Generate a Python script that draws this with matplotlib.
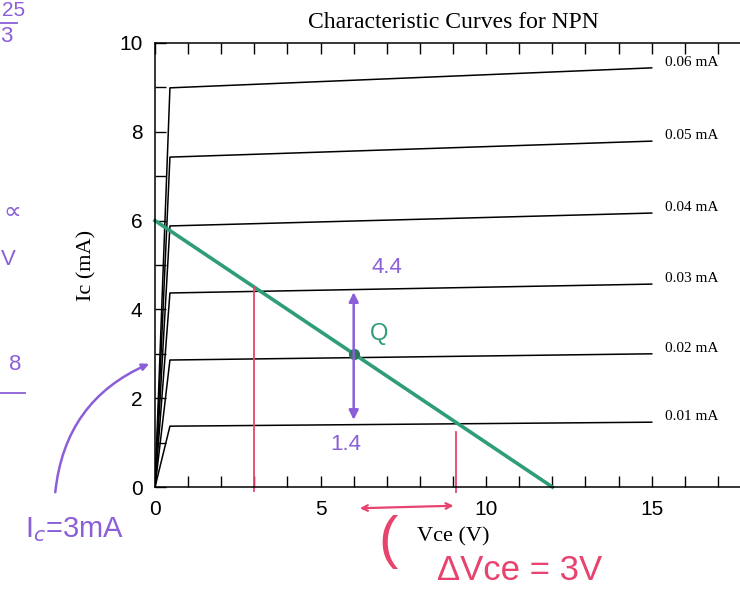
import numpy as np
import matplotlib.pyplot as plt

plt.rcParams['font.family'] = 'Liberation Sans'

# characteristic curves
base_labels = ['0.01 mA', '0.02 mA', '0.03 mA', '0.04 mA', '0.05 mA', '0.06 mA']
curve_vce = [0, 0.45, 15]
knee_ic = [1.37, 2.86, 4.37, 5.88, 7.43, 8.99]
end_ic = [1.46, 3.00, 4.57, 6.17, 7.79, 9.44]

# hand-drawn load line and Q point
load_vce = [0, 12]
load_ic = [6, 0]
q_vce, q_ic = 6, 3
ic_top, ic_bot = 4.45, 1.45
vce_left, vce_right = 3, 9.1

purple = '#8b5fd8'
pink = '#e8436e'
green = '#2f9e76'
serif = 'Liberation Serif'

fig = plt.figure(figsize=(7.4, 5.98), dpi=100)
ax = fig.add_axes([0.2095, 0.1856, 0.8054, 0.7425])

for lab, k, e in zip(base_labels, knee_ic, end_ic):
    ax.plot(curve_vce, [0, k, e], color='black', lw=1.1)
    ax.text(15.4, e + 0.12, lab, fontsize=11, family=serif, va='center', ha='left')

ax.set_xlim(0, 18)
ax.set_ylim(0, 10)
ax.set_xticks([0, 5, 10, 15])
ax.set_xticks(np.arange(0, 19, 1), minor=True)
ax.set_yticks([0, 2, 4, 6, 8, 10])
ax.set_yticks(np.arange(0, 11, 1), minor=True)
ax.tick_params(which='both', direction='in', top=True, right=True, length=8, width=1)
ax.tick_params(labelsize=15, pad=9)
for s in ax.spines.values():
    s.set_linewidth(1.1)

ax.set_title('Characteristic Curves for NPN', family=serif, fontsize=17, pad=11)
ax.set_xlabel('Vce (V)', family=serif, fontsize=16, labelpad=6)
ax.set_ylabel('Ic (mA)', family=serif, fontsize=16, labelpad=16)

# annotations
ax.plot(load_vce, load_ic, color=green, lw=2.6, clip_on=False)
ax.plot(q_vce, q_ic, 'o', color='#2a7a58', ms=7)
ax.text(q_vce + 0.5, q_ic + 0.3, 'Q', color=green, fontsize=17)

ax.annotate('', xy=(q_vce, ic_top), xytext=(q_vce, ic_bot),
            arrowprops=dict(arrowstyle='<|-|>', color=purple, lw=1.8, mutation_scale=14))
ax.text(q_vce + 1.0, ic_top + 0.5, '4.4', color=purple, fontsize=16, ha='center', va='center')
ax.text(q_vce - 0.25, ic_bot - 0.5, '1.4', color=purple, fontsize=16, ha='center', va='center')

ax.plot([vce_left, vce_left], [-0.1, 4.5], color=pink, lw=1.3, clip_on=False)
ax.plot([vce_right, vce_right], [-0.12, 1.25], color=pink, lw=1.3, clip_on=False)
ax.annotate('', xy=(vce_right, -0.42), xytext=(vce_left + 3.1, -0.48),
            arrowprops=dict(arrowstyle='<->', color=pink, lw=1.6), annotation_clip=False)
fig.text(388 / 740, 1 - 542 / 598, '(', color=pink, fontsize=42, ha='center', va='center')
fig.text(520 / 740, 1 - 570 / 598, 'ΔVce = 3V', color=pink, fontsize=25, ha='center', va='center')

fig.text(75 / 740, 1 - 530 / 598, r'I$_c$=3mA', color=purple, fontsize=21, ha='center', va='center')
ax.annotate('', xy=(-0.1, 2.8), xytext=(55, 103), textcoords='figure pixels',
            arrowprops=dict(arrowstyle='-|>', color=purple, lw=1.8,
                            connectionstyle='arc3,rad=-0.3'), annotation_clip=False)

# scribbles in the left margin
fig.text(14 / 740, 1 - 10 / 598, '25', color=purple, fontsize=15, ha='center', va='center')
fig.add_artist(plt.Line2D([0, 17 / 740], [1 - 23 / 598, 1 - 23 / 598], color=purple, lw=1.3))
fig.text(6 / 740, 1 - 37 / 598, '3', color=purple, fontsize=16, ha='center', va='center')
fig.text(12 / 740, 1 - 212 / 598, '∝', color=purple, fontsize=18, ha='center', va='center',
         family=['DejaVu Sans'])
fig.text(8 / 740, 1 - 260 / 598, 'V', color=purple, fontsize=16, ha='center', va='center')
fig.text(15 / 740, 1 - 365 / 598, '8', color=purple, fontsize=16, ha='center', va='center')
fig.add_artist(plt.Line2D([0, 25 / 740], [1 - 393 / 598, 1 - 393 / 598], color=purple, lw=1.3))

fig.savefig('out.png', dpi=100)
